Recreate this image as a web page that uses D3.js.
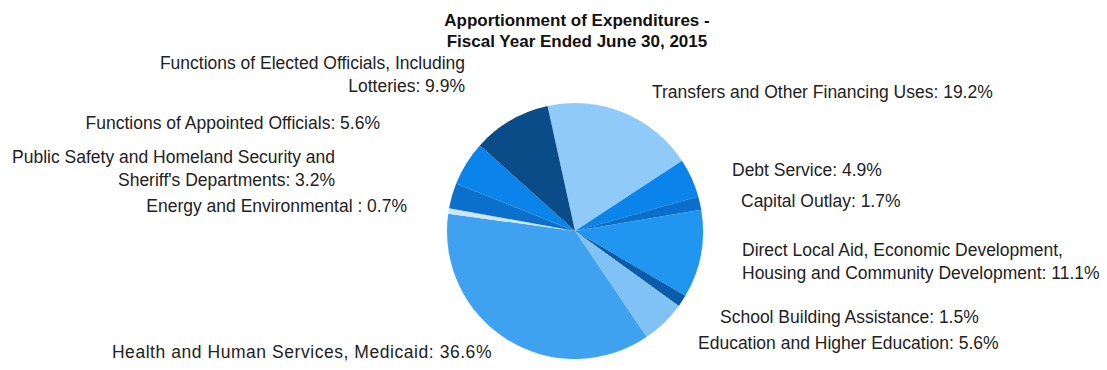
<!DOCTYPE html>
<html><head><meta charset="utf-8">
<script src="https://cdn.jsdelivr.net/npm/d3@7/dist/d3.min.js"></script>
<style>body{margin:0;background:#fff;}svg{display:block;}</style>
</head><body><svg id="c" width="1107" height="370"></svg>
<script>
const titleLines = ["Apportionment of Expenditures -", "Fiscal Year Ended June 30, 2015"];
const categories = [
  "Transfers and Other Financing Uses",
  "Debt Service",
  "Capital Outlay",
  "Direct Local Aid, Economic Development, Housing and Community Development",
  "School Building Assistance",
  "Education and Higher Education",
  "Health and Human Services, Medicaid",
  "Energy and Environmental ",
  "Public Safety and Homeland Security and Sheriff's Departments",
  "Functions of Appointed Officials",
  "Functions of Elected Officials, Including Lotteries"
];
const values = [19.2, 4.9, 1.7, 11.1, 1.5, 5.6, 36.6, 0.7, 3.2, 5.6, 9.9];
const labelLines = [
  ["Transfers and Other Financing Uses: 19.2%"],
  ["Debt Service: 4.9%"],
  ["Capital Outlay: 1.7%"],
  ["Direct Local Aid, Economic Development,", "Housing and Community Development: 11.1%"],
  ["School Building Assistance: 1.5%"],
  ["Education and Higher Education: 5.6%"],
  ["Health and Human Services, Medicaid: 36.6%"],
  ["Energy and Environmental : 0.7%"],
  ["Public Safety and Homeland Security and", "Sheriff's Departments: 3.2%"],
  ["Functions of Appointed Officials: 5.6%"],
  ["Functions of Elected Officials, Including", "Lotteries: 9.9%"]
];
const colors = ["#8fcaf8","#0a84ea","#0a6fcc","#2096f0","#0a5caa","#80c2f6","#3ea2f0","#cde6fa","#0a70cc","#0a84ea","#0a4c88"];

// layout (positions of label blocks: anchor x, first-line center y, letter spacing)
const labelPos = [
  {x:652, y:92, a:"start", ls:0},
  {x:732, y:170, a:"start", ls:0},
  {x:741, y:201, a:"start", ls:0},
  {x:742, y:250, a:"start", ls:0},
  {x:720, y:317, a:"start", ls:0},
  {x:698, y:343, a:"start", ls:0},
  {x:492, y:352, a:"end", ls:0.55},
  {x:407, y:206, a:"end", ls:0},
  {x:335, y:157, a:"end", ls:0},
  {x:380, y:123, a:"end", ls:0},
  {x:465, y:63, a:"end", ls:0}
];

const svg = d3.select("#c");
const cx = 575, cy = 231, R = 128;
const start = -12.4 * Math.PI / 180;
const pie = d3.pie().sort(null).value(d => d).startAngle(start).endAngle(start + 2*Math.PI);
const arc = d3.arc().innerRadius(0).outerRadius(R);
const g = svg.append("g").attr("transform", `translate(${cx},${cy})`);
g.selectAll("path").data(pie(values)).join("path")
  .attr("d", arc).attr("fill", (d,i) => colors[i]);

const font = "'Liberation Sans', Arial, sans-serif";
svg.append("g").selectAll("text").data(titleLines).join("text")
  .attr("x", 577).attr("y", (d,i) => 20 + i*21)
  .attr("text-anchor", "middle").attr("dominant-baseline", "central")
  .attr("font-family", font).attr("font-size", 17).attr("font-weight", "bold")
  .attr("fill", "#111").text(d => d);

const lg = svg.append("g");
labelLines.forEach((lines, i) => {
  const p = labelPos[i];
  lines.forEach((t, j) => {
    lg.append("text").attr("x", p.x).attr("y", p.y + j*23)
      .attr("text-anchor", p.a).attr("dominant-baseline", "central")
      .attr("letter-spacing", p.ls)
      .attr("font-family", font).attr("font-size", 17.5).attr("fill", "#222").text(t);
  });
});
</script></body></html>
